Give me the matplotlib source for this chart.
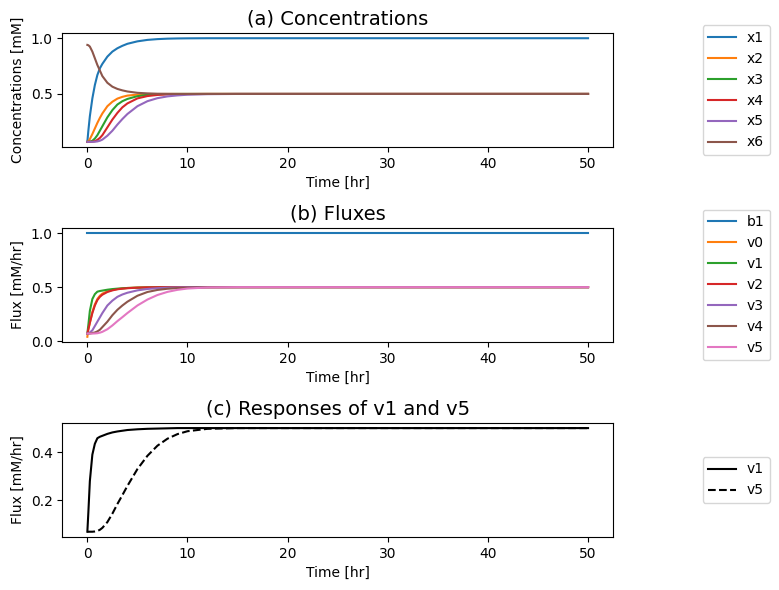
import matplotlib.pyplot as plt

# time points [hr]
t = [0, 0.1, 0.25, 0.5, 0.75, 1, 1.25, 1.5, 2, 2.5, 3, 3.5, 4, 5, 6, 7, 8, 9, 10, 12, 15, 20, 30, 40, 50]

# concentrations [mM]
x1 = [0.07, 0.17, 0.30, 0.46, 0.58, 0.67, 0.73, 0.77, 0.835, 0.88, 0.91, 0.932, 0.95, 0.972, 0.985,
      0.992, 0.996, 0.998, 0.999, 1.0, 1.0, 1.0, 1.0, 1.0, 1.0]
x2 = [0.07, 0.075, 0.095, 0.14, 0.19, 0.24, 0.285, 0.325, 0.39, 0.43, 0.458, 0.474, 0.485, 0.494, 0.498,
      0.499, 0.5, 0.5, 0.5, 0.5, 0.5, 0.5, 0.5, 0.5, 0.5]
x3 = [0.07, 0.07, 0.072, 0.08, 0.1, 0.13, 0.17, 0.21, 0.29, 0.355, 0.405, 0.435, 0.455, 0.48, 0.492,
      0.497, 0.499, 0.5, 0.5, 0.5, 0.5, 0.5, 0.5, 0.5, 0.5]
x4 = [0.07, 0.07, 0.07, 0.071, 0.076, 0.088, 0.105, 0.13, 0.2, 0.27, 0.33, 0.38, 0.415, 0.46, 0.481,
      0.491, 0.496, 0.498, 0.499, 0.5, 0.5, 0.5, 0.5, 0.5, 0.5]
x5 = [0.07, 0.07, 0.07, 0.07, 0.071, 0.074, 0.08, 0.09, 0.125, 0.17, 0.225, 0.275, 0.32, 0.39, 0.435,
      0.462, 0.478, 0.487, 0.493, 0.498, 0.5, 0.5, 0.5, 0.5, 0.5]
x6 = [0.94, 0.937, 0.925, 0.88, 0.82, 0.76, 0.71, 0.66, 0.6, 0.565, 0.545, 0.532, 0.522, 0.51, 0.505,
      0.502, 0.501, 0.5, 0.5, 0.5, 0.5, 0.5, 0.5, 0.5, 0.5]

# fluxes [mM/hr]
b1 = [1.0] * len(t)
v0 = [0.04, 0.11, 0.17, 0.27, 0.34, 0.39, 0.42, 0.44, 0.46, 0.473, 0.482, 0.488, 0.492, 0.496, 0.498,
      0.499, 0.5, 0.5, 0.5, 0.5, 0.5, 0.5, 0.5, 0.5, 0.5]
v1 = [0.07, 0.15, 0.28, 0.39, 0.435, 0.458, 0.464, 0.468, 0.476, 0.482, 0.486, 0.489, 0.492, 0.495, 0.497,
      0.498, 0.499, 0.5, 0.5, 0.5, 0.5, 0.5, 0.5, 0.5, 0.5]
v2 = [0.07, 0.11, 0.17, 0.26, 0.33, 0.38, 0.41, 0.43, 0.455, 0.47, 0.48, 0.486, 0.49, 0.495, 0.498,
      0.499, 0.5, 0.5, 0.5, 0.5, 0.5, 0.5, 0.5, 0.5, 0.5]
v3 = [0.07, 0.072, 0.08, 0.1, 0.14, 0.18, 0.22, 0.26, 0.33, 0.375, 0.41, 0.432, 0.448, 0.47, 0.483,
      0.49, 0.495, 0.497, 0.499, 0.5, 0.5, 0.5, 0.5, 0.5, 0.5]
v4 = [0.07, 0.07, 0.07, 0.075, 0.08, 0.09, 0.105, 0.13, 0.18, 0.24, 0.29, 0.33, 0.365, 0.42, 0.455,
      0.474, 0.485, 0.491, 0.495, 0.499, 0.5, 0.5, 0.5, 0.5, 0.5]
v5 = [0.07, 0.07, 0.07, 0.07, 0.071, 0.073, 0.078, 0.086, 0.11, 0.145, 0.185, 0.222, 0.26, 0.33, 0.385,
      0.427, 0.456, 0.475, 0.487, 0.497, 0.5, 0.5, 0.5, 0.5, 0.5]

conc = {"x1": x1, "x2": x2, "x3": x3, "x4": x4, "x5": x5, "x6": x6}
flux = {"b1": b1, "v0": v0, "v1": v1, "v2": v2, "v3": v3, "v4": v4, "v5": v5}

fig, axes = plt.subplots(3, 1, figsize=(7.79, 5.9), dpi=100)
fig.subplots_adjust(left=0.08, right=0.787, top=0.944, bottom=0.09, hspace=0.71)

# (a) 濃度
ax = axes[0]
for name, y in conc.items():
    ax.plot(t, y, label=name)
ax.set_title("(a) Concentrations", fontsize=14)
ax.set_xlabel("Time [hr]")
ax.set_ylabel("Concentrations [mM]")
ax.legend(loc="center left", bbox_to_anchor=(1.15, 0.5))

# (b) フラックス
ax = axes[1]
for name, y in flux.items():
    ax.plot(t, y, label=name)
ax.set_title("(b) Fluxes", fontsize=14)
ax.set_xlabel("Time [hr]")
ax.set_ylabel("Flux [mM/hr]")
ax.legend(loc="center left", bbox_to_anchor=(1.15, 0.5))

# (c) v1 と v5 の応答
ax = axes[2]
ax.plot(t, v1, "k-", label="v1")
ax.plot(t, v5, "k--", label="v5")
ax.set_title("(c) Responses of v1 and v5", fontsize=14)
ax.set_xlabel("Time [hr]")
ax.set_ylabel("Flux [mM/hr]")
ax.legend(loc="center left", bbox_to_anchor=(1.15, 0.5))

plt.savefig("out.png")
